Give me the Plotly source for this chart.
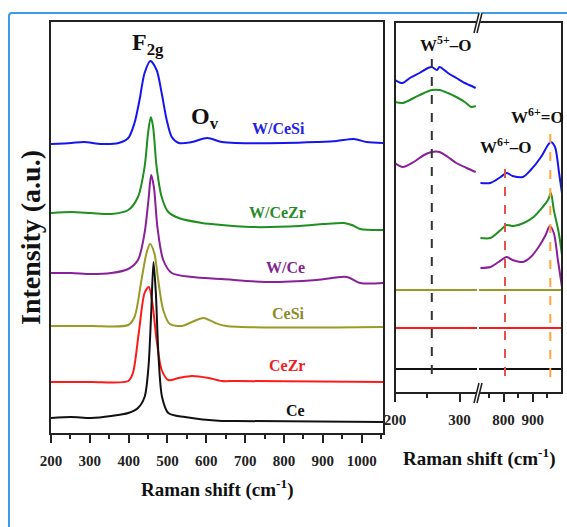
import plotly.graph_objects as go

# ---------------- data: left panel (Raman shift in cm-1, intensity in a.u., offset stacked) ----
wcesi_x = [200, 252, 285, 330, 374, 399, 415, 428, 441, 456, 472, 485, 498, 511, 529, 563, 602, 640, 677, 798, 884, 936, 980, 1013, 1055]
wcesi_y = [289, 290, 291, 289, 290, 295, 310, 333, 360, 372, 363, 340, 313, 296, 290, 291, 295, 291, 290, 290, 291, 292, 294, 291, 290]

wcezr_x = [200, 252, 303, 355, 399, 424, 441, 450, 457, 463, 472, 485, 502, 529, 589, 640, 713, 840, 902, 954, 975, 996, 1055]
wcezr_y = [220, 221, 220, 219, 223, 236, 266, 300, 316, 306, 266, 236, 221, 215, 210, 208, 206, 207, 209, 210, 208, 204, 203]

wce_x = [200, 252, 303, 355, 399, 424, 441, 451, 458, 465, 474, 489, 511, 563, 640, 752, 884, 962, 996, 1055]
wce_y = [160, 160, 159, 160, 164, 173, 200, 233, 258, 246, 206, 173, 160, 156, 154, 151, 153, 156, 150, 150]

cesi_x = [200, 303, 399, 415, 433, 446, 455, 466, 476, 489, 506, 537, 563, 593, 623, 651, 1055]
cesi_y = [107, 107, 108, 116, 153, 180, 189, 180, 153, 123, 109, 107, 111, 115, 110, 107, 106]

cezr_x = [200, 303, 399, 411, 426, 441, 452, 461, 472, 485, 502, 529, 563, 606, 640, 677, 1055]
cezr_y = [51, 51, 52, 60, 100, 140, 146, 130, 93, 63, 53, 55, 57, 55, 52, 52, 51]

ce_x = [200, 252, 303, 355, 399, 424, 441, 451, 458, 464, 470, 477, 486, 502, 545, 640, 677, 1055]
ce_y = [15, 16, 15, 17, 20, 25, 36, 66, 120, 171, 140, 76, 36, 20, 16, 12, 12, 11]

left_ticks = [200, 300, 400, 500, 600, 700, 800, 900, 1000]
left_minor = [250, 350, 450, 550, 650, 750, 850, 950, 1050]

# ---------------- data: right panel (broken axis: low 200-327, high 716-1000) --------------
lo_x_blue = [200, 212, 223, 238, 251, 257, 265, 269, 282, 295, 308, 315, 325]
lo_y_blue = [313, 310, 315, 320, 325, 326, 323, 326, 320, 315, 310, 308, 305]
hi_x_blue = [721, 755, 790, 810, 831, 866, 893, 928, 952, 962, 976, 990, 1000]
hi_y_blue = [210, 210, 216, 220, 217, 216, 223, 236, 248, 251, 246, 220, 200]

lo_x_green = [200, 212, 229, 245, 257, 269, 282, 295, 308, 318, 325]
lo_y_green = [291, 290, 295, 300, 303, 303, 300, 296, 291, 286, 287]
hi_x_green = [721, 755, 790, 810, 834, 869, 903, 934, 952, 962, 972, 989, 1000]
hi_y_green = [155, 155, 163, 168, 167, 170, 176, 186, 193, 200, 183, 160, 138]

lo_x_purple = [200, 212, 229, 245, 257, 269, 282, 295, 311, 325]
lo_y_purple = [230, 226, 231, 238, 241, 241, 236, 230, 225, 221]
hi_x_purple = [721, 755, 783, 810, 831, 866, 893, 920, 944, 958, 972, 986, 1000]
hi_y_purple = [125, 126, 131, 136, 133, 131, 136, 146, 158, 167, 160, 133, 106]

lo_x_flat = [200, 327]
hi_x_flat = [716, 1000]
cesi_level = 103
cezr_level = 65
ce_level = 24

band_x = [257, 805, 960]          # W5+-O, W6+-O, W6+=O
band_top = [336, 231, 261]
band_bottom = [19, 17, 16]

lo_ticks, lo_minor = [200, 300], [250]
hi_ticks, hi_minor = [800, 900], [750, 850, 950]

# ---------------- figure ----------------
W, H = 567, 527
def px(x):
    return x / W
def py(y):
    return 1 - y / H

SERIF = "Liberation Serif, Times New Roman, serif"
BLUE, GREEN, PURPLE, OLIVE, RED, BLACK = "#1515f0", "#1f8f1f", "#8a1f9a", "#9a9a26", "#ff1a1a", "#111111"

fig = go.Figure()

def add(x, y, color, xa="x", ya="y"):
    fig.add_trace(go.Scatter(x=x, y=y, mode="lines", xaxis=xa, yaxis=ya,
                             line=dict(color=color, width=2, shape="spline", smoothing=0.8),
                             hoverinfo="skip", showlegend=False))

for xs, ys, c in [(wcesi_x, wcesi_y, BLUE), (wcezr_x, wcezr_y, GREEN), (wce_x, wce_y, PURPLE),
                  (cesi_x, cesi_y, OLIVE), (cezr_x, cezr_y, RED), (ce_x, ce_y, BLACK)]:
    add(xs, ys, c)

for xs, ys, c in [(lo_x_blue, lo_y_blue, BLUE), (lo_x_green, lo_y_green, GREEN), (lo_x_purple, lo_y_purple, PURPLE)]:
    add(xs, ys, c, "x2", "y2")
for xs, ys, c in [(hi_x_blue, hi_y_blue, BLUE), (hi_x_green, hi_y_green, GREEN), (hi_x_purple, hi_y_purple, PURPLE)]:
    add(xs, ys, c, "x3", "y2")
for lvl, c in [(cesi_level, OLIVE), (cezr_level, RED), (ce_level, BLACK)]:
    add(lo_x_flat, [lvl, lvl], c, "x2", "y2")
    add(hi_x_flat, [lvl, lvl], c, "x3", "y2")

dash_colors = ["#333333", "#e8504a", "#ffa53a"]
dash_axes = ["x2", "x3", "x3"]
for bx, top, bot, c, xa in zip(band_x, band_top, band_bottom, dash_colors, dash_axes):
    fig.add_trace(go.Scatter(x=[bx, bx], y=[bot, top], mode="lines", xaxis=xa, yaxis="y2",
                             line=dict(color=c, width=2, dash="dash"), hoverinfo="skip", showlegend=False))

tickfont = dict(family=SERIF, size=15, color="#222", weight="bold")
common_x = dict(ticks="outside", ticklen=8, tickwidth=1.5, tickcolor="#222",
                tickfont=tickfont, showgrid=False, zeroline=False, ticklabelstandoff=5, automargin=False)

fig.update_layout(
    width=W, height=H, margin=dict(l=0, r=0, t=0, b=0, pad=0, autoexpand=False),
    paper_bgcolor="white", plot_bgcolor="rgba(0,0,0,0)", showlegend=False,
    xaxis=dict(domain=[px(51), px(383)], range=[200, 1055], anchor="y",
               tickvals=left_ticks, showline=True, mirror=True, linecolor="#222", linewidth=2,
               minor=dict(tickvals=left_minor, ticks="outside", ticklen=4, tickcolor="#222"),
               **common_x),
    yaxis=dict(domain=[py(433), py(22)], range=[0, 411], anchor="x",
               showline=True, mirror=True, linecolor="#222", linewidth=2, automargin=False,
               showticklabels=False, ticks="", showgrid=False, zeroline=False),
    xaxis2=dict(domain=[px(395), px(477)], range=[200, 327], anchor="y2",
                tickvals=lo_ticks, showline=False,
                minor=dict(tickvals=lo_minor, ticks="outside", ticklen=4, tickcolor="#222"),
                **common_x),
    xaxis3=dict(domain=[px(479), px(562)], range=[716, 1000], anchor="y2",
                tickvals=hi_ticks, showline=False,
                minor=dict(tickvals=hi_minor, ticks="outside", ticklen=4, tickcolor="#222"),
                **common_x),
    yaxis2=dict(domain=[py(393), py(22)], range=[0, 371], anchor="x2", automargin=False,
                showline=False, showticklabels=False, ticks="", showgrid=False, zeroline=False),
)

shapes = []
# outer light-blue frame
shapes.append(dict(type="path", xref="paper", yref="paper",
                   path=f"M {px(9)} {py(540)} L {px(9)} {py(16)} Q {px(9)} {py(13)} {px(12)} {py(13)} L {px(580)} {py(13)}",
                   line=dict(color="#3c9be3", width=2)))
# right panel frame
shapes.append(dict(type="rect", xref="paper", yref="paper", x0=px(395), x1=px(562), y0=py(393), y1=py(22),
                   line=dict(color="#222", width=2)))
# break marks
for yc in (23, 393):
    shapes.append(dict(type="path", xref="paper", yref="paper",
                       path=f"M {px(474)} {py(yc+10)} L {px(479)} {py(yc-10)} L {px(482)} {py(yc-10)} L {px(477)} {py(yc+10)} Z",
                       fillcolor="white", line=dict(color="white", width=1)))
    for dx in (0, 3):
        shapes.append(dict(type="line", xref="paper", yref="paper",
                           x0=px(474+dx), y0=py(yc+10), x1=px(479+dx), y1=py(yc-10),
                           line=dict(color="#222", width=1.6)))
fig.update_layout(shapes=shapes)

def ann(text, x, y, size, color="#111", angle=0):
    fig.add_annotation(text=text, x=px(x), y=py(y), xref="paper", yref="paper",
                       showarrow=False, textangle=angle, xanchor="center", yanchor="middle",
                       font=dict(family=SERIF, size=size, color=color))

ann("<b>F<sub>2g</sub></b>", 148, 44, 24)
ann("<b>O<sub>v</sub></b>", 205, 118, 24)
ann("<b>W/CeSi</b>", 278, 128, 16, "#2323e6")
ann("<b>W/CeZr</b>", 277, 212, 16, "#2a8a2a")
ann("<b>W/Ce</b>", 285, 267, 16, "#7e2690")
ann("<b>CeSi</b>", 288, 313, 16, "#8c8c26")
ann("<b>CeZr</b>", 287, 365, 16, "#f02020")
ann("<b>Ce</b>", 295, 410, 16, "#111")
ann("<b>Intensity (a.u.)</b>", 30, 238, 28, angle=-90)
ann("<b>Raman shift (cm<sup>-1</sup>)</b>", 217, 488, 19)
ann("<b>Raman shift (cm<sup>-1</sup>)</b>", 479, 457, 19)
ann("<b>W<sup>5+</sup>–O</b>", 445, 44, 17)
ann("<b>W<sup>6+</sup>–O</b>", 505, 146, 17)
ann("<b>W<sup>6+</sup>=O</b>", 537, 116, 17)

fig.write_html("out.html", config={"displayModeBar": False},
               post_script="document.body.style.margin='0';document.documentElement.style.overflow='hidden';")
